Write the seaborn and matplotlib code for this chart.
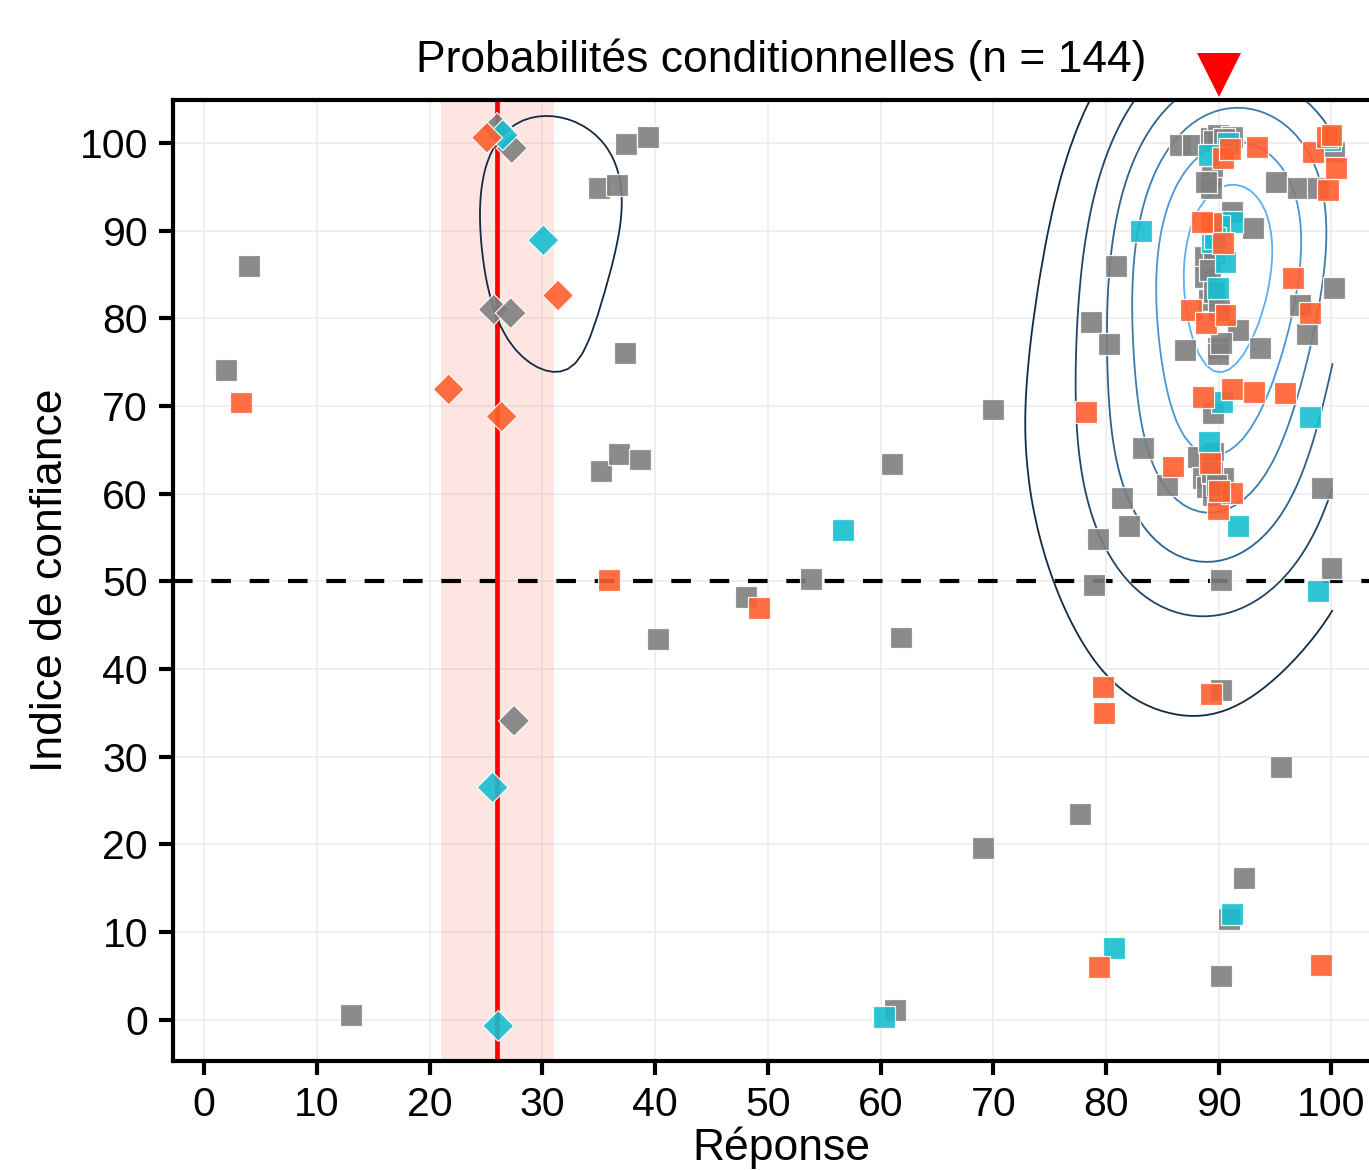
import numpy as np
import pandas as pd
import matplotlib
matplotlib.use("Agg")
import matplotlib.pyplot as plt
import matplotlib.transforms as mtransforms
from matplotlib.colors import LinearSegmentedColormap, Normalize
import seaborn as sns

# ─────────────────────────────────────────────
# Données
# ─────────────────────────────────────────────
gris_x = [4.0, 1.95, 13.0, 35.0, 36.6, 37.4, 39.4, 37.3, 35.2, 36.8, 38.7, 40.3, 48.1, 53.8,
          61.0, 61.8, 61.3, 70.0, 69.1, 77.7, 78.7, 80.3, 80.9, 83.3, 81.4, 82.0, 79.3, 78.9,
          85.4, 87.0, 90.2, 100.0, 99.2, 100.2, 90.2, 95.5, 92.2, 90.9, 90.2, 95.1, 97.0, 98.8,
          97.2, 97.8, 93.7, 91.7, 89.9, 93.0, 86.6, 87.7, 89.3, 89.9, 91.2, 89.4, 89.3, 91.2,
          88.8, 88.8, 89.1, 88.2, 89.5, 88.6, 90.4, 89.0, 89.5, 89.5, 100.2, 89.9,
          # carrés cachés sous d'autres dans le nuage
          89.6, 90.5, 88.9, 89.6, 89.2, 89.6, 90.0, 90.2, 89.4, 89.8]
gris_y = [86.0, 74.1, 0.5, 94.9, 95.2, 99.9, 100.7, 76.1, 62.6, 64.5, 63.9, 43.4, 48.2, 50.3,
          63.4, 43.6, 1.1, 69.6, 19.6, 23.5, 79.6, 77.1, 86.0, 65.2, 59.5, 56.3, 54.8, 49.6,
          61.0, 76.4, 50.2, 51.5, 60.7, 83.5, 37.6, 28.8, 16.2, 11.5, 5.0, 95.6, 94.9, 94.9,
          81.5, 78.2, 76.6, 78.7, 76.6, 90.3, 99.8, 99.8, 100.6, 100.9, 100.7, 96.1, 94.9, 92.1,
          87.0, 84.7, 82.1, 64.2, 64.7, 61.8, 61.8, 60.8, 59.9, 69.2, 99.0, 75.9,
          100.2, 100.4, 95.5, 87.5, 85.5, 83.0, 81.0, 77.2, 62.5, 61.0]

cyan_x = [56.7, 60.3, 80.7, 91.2, 83.1, 91.7, 98.8, 98.1, 89.1, 90.3, 89.9, 90.6, 91.2, 89.4,
          90.8, 89.1, 99.9, 90.0, 89.7]
cyan_y = [55.9, 0.3, 8.2, 12.1, 90.0, 56.3, 48.9, 68.8, 65.9, 70.5, 83.5, 86.4, 91.0, 88.7,
          100.0, 98.6, 100.3, 90.5, 89.2]

orange_x = [3.3, 35.9, 49.2, 78.2, 79.7, 79.8, 79.4, 89.3, 99.1, 85.9, 89.9, 91.2, 88.6, 91.2,
            93.1, 95.9, 87.5, 88.9, 90.6, 96.6, 98.1, 89.3, 90.4, 90.4, 93.4, 98.4, 99.6, 100.4,
            99.7, 88.5, 100.0, 91.0, 90.0, 89.2]
orange_y = [70.4, 50.2, 47.0, 69.3, 37.9, 35.0, 6.0, 37.2, 6.2, 63.1, 58.2, 60.1, 71.0, 71.9,
            71.6, 71.5, 81.0, 79.5, 80.4, 84.6, 80.6, 90.9, 88.6, 98.3, 99.5, 99.0, 100.7, 97.1,
            94.6, 91.0, 100.9, 99.3, 60.3, 63.5]

# réponses dans l'intervalle (losanges)
los_gris_x = [26.0, 27.3, 25.7, 27.2, 27.5]
los_gris_y = [101.7, 99.4, 81.0, 80.6, 34.1]
los_cyan_x = [26.5, 30.1, 25.6, 26.1]
los_cyan_y = [100.9, 88.9, 26.5, -0.7]
los_orange_x = [25.1, 31.4, 21.7, 26.4]
los_orange_y = [100.6, 82.6, 71.9, 68.8]

bonne_reponse = 26
intervalle = (21, 31)
seuil = 50
cible = 90

couleurs = {"gris": "#7F7F7F", "cyan": "#17BECF", "orange": "#FF5F2E"}

# ─────────────────────────────────────────────
# Tableau
# ─────────────────────────────────────────────
morceaux = []
for grp, xs, ys, forme in [("gris", gris_x, gris_y, "carre"),
                           ("cyan", cyan_x, cyan_y, "carre"),
                           ("orange", orange_x, orange_y, "carre"),
                           ("gris", los_gris_x, los_gris_y, "losange"),
                           ("cyan", los_cyan_x, los_cyan_y, "losange"),
                           ("orange", los_orange_x, los_orange_y, "losange")]:
    morceaux.append(pd.DataFrame({"reponse": xs, "indice": ys, "groupe": grp, "forme": forme}))
df = pd.concat(morceaux, ignore_index=True)

# ─────────────────────────────────────────────
# Densité 2D (noyau gaussien)
# ─────────────────────────────────────────────
xv = df["reponse"].to_numpy()
yv = df["indice"].to_numpy()
hx, hy = 7.0, 11.5
gx = np.linspace(xv.min(), 100.1, 150)
gy = np.linspace(-5, 112, 150)
kx = np.exp(-0.5 * ((gx[:, None] - xv[None, :]) / hx) ** 2)
ky = np.exp(-0.5 * ((gy[:, None] - yv[None, :]) / hy) ** 2)
z = kx @ ky.T / (len(xv) * 2 * np.pi * hx * hy)
niveaux = z.max() * np.arange(1, 7) / 6.7

degrade = LinearSegmentedColormap.from_list("gg", ["#132B43", "#56B1F7"])
norme = Normalize(niveaux.min(), niveaux.max())

# ─────────────────────────────────────────────
# Figure
# ─────────────────────────────────────────────
sns.set_theme(style="whitegrid")
plt.rcParams["font.family"] = ["Liberation Sans", "DejaVu Sans"]

fig = plt.figure(figsize=(13.69, 11.70), dpi=100)
ax = fig.add_axes([173 / 1369, 109 / 1170, (1389 - 173) / 1369, 961 / 1170])
ax.set_facecolor("white")
ax.grid(True, color="#EBEBEB", linewidth=1.1)
ax.set_axisbelow(True)

ax.axvspan(*intervalle, color="#FA8072", alpha=0.2, linewidth=0, zorder=0.8)
ax.axhline(seuil, color="black", linewidth=3, dashes=(4.7, 4.5), zorder=1.5)
ax.axvline(bonne_reponse, color="#FF0000", linewidth=3.4, zorder=1.6)

ax.contour(gx, gy, z.T, levels=niveaux, colors=[degrade(norme(l)) for l in niveaux],
           linewidths=1.3, zorder=1.7)

sns.scatterplot(data=df, x="reponse", y="indice", hue="groupe", style="forme",
                palette=couleurs, markers={"carre": "s", "losange": "D"},
                s=250, alpha=0.9, edgecolor="white", linewidth=0.9, legend=False,
                ax=ax, zorder=3)

trans = mtransforms.blended_transform_factory(ax.transData, ax.transAxes)
ax.plot([cible], [1.026], marker="v", markersize=32, color="#FF0000", markeredgewidth=0,
        transform=trans, clip_on=False)

ax.set_xlim(-2.75, 105.1)
ax.set_ylim(-4.7, 104.9)
ax.set_xticks(range(0, 101, 10))
ax.set_yticks(range(0, 101, 10))

for cote in ["left", "bottom", "top"]:
    ax.spines[cote].set_color("black")
    ax.spines[cote].set_linewidth(3)
ax.spines["right"].set_visible(False)
ax.tick_params(axis="both", length=10, width=3, color="black", labelsize=29.5, pad=8,
               labelcolor="black", bottom=True, left=True)

ax.set_title("Probabilités conditionnelles (n = 144)", fontsize=32, pad=20, color="black")
ax.set_xlabel("Réponse", fontsize=32, labelpad=2, color="black")
ax.set_ylabel("Indice de confiance", fontsize=32, labelpad=6, color="black")

fig.savefig("out.png", dpi=100)
